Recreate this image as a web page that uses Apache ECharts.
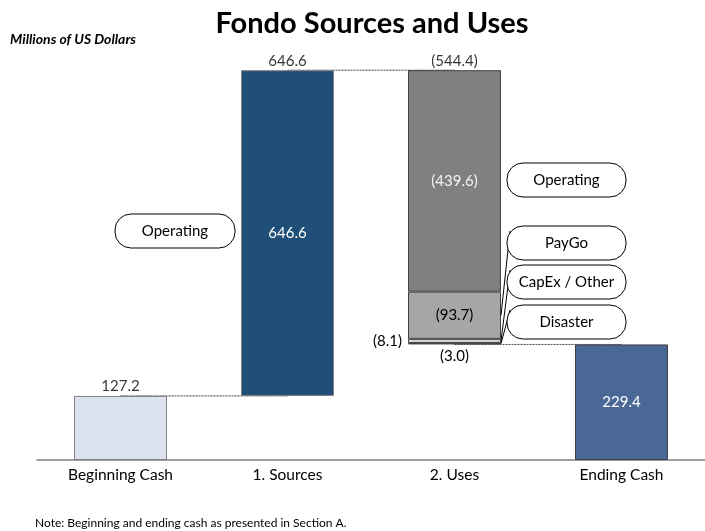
<!DOCTYPE html>
<html>
<head>
<meta charset="utf-8">
<script src="https://cdn.jsdelivr.net/npm/echarts@6/dist/echarts.min.js"></script>
<style>
  html, body { margin: 0; padding: 0; background: #fff; }
  #main { width: 705px; height: 531px; }
</style>
</head>
<body>
<div id="main"></div>
<script>
// data
var categories = ['Beginning Cash', '1. Sources', '2. Uses', 'Ending Cash'];
var beginningCash = 127.2;
var sourceNames = ['Operating'];
var sourceValues = [646.6];
// stacked bottom -> top
var useNames = ['Disaster', 'CapEx / Other', 'PayGo', 'Operating'];
var useValues = [3.0, 8.1, 93.7, 439.6];
var useColors = ['#404040', '#d9d9d9', '#a6a6a6', '#808080'];
var endingCash = 229.4;

var font = 'Lato';
var sourcesTotal = sourceValues.reduce(function (a, b) { return a + b; }, 0);
var usesTotal = useValues.reduce(function (a, b) { return a + b; }, 0);
var peak = beginningCash + sourcesTotal;
var usesBase = peak - usesTotal;

function paren(v) { return '(' + v.toFixed(1) + ')'; }

var chart = echarts.init(document.getElementById('main'));

var series = [];
// invisible base for the floating bars
series.push({
  name: 'base', type: 'bar', stack: 'w', silent: true, barWidth: 93, z: 3,
  itemStyle: { color: 'rgba(0,0,0,0)' },
  data: [0, beginningCash, usesBase, 0]
});
series.push({
  name: 'Beginning Cash', type: 'bar', stack: 'w', barWidth: 93, z: 3,
  itemStyle: { color: '#dce3ee', borderColor: '#7f7f7f', borderWidth: 1 },
  data: [beginningCash, '-', '-', '-']
});
series.push({
  name: sourceNames[0], type: 'bar', stack: 'w', barWidth: 93, z: 3,
  itemStyle: { color: '#1f4e79', borderColor: '#7f7f7f', borderWidth: 1 },
  label: { show: true, position: 'inside', color: '#fff', fontFamily: font, fontSize: 15,
    formatter: function (p) { return p.value.toFixed(1); } },
  data: ['-', sourceValues[0], '-', '-']
});
useNames.forEach(function (n, i) {
  var lbl;
  if (i === 0) {
    lbl = { show: true, position: 'bottom', distance: 4, color: '#000' };
  } else if (i === 1) {
    lbl = { show: true, position: 'left', distance: 6, color: '#000' };
  } else {
    lbl = { show: true, position: 'inside', color: i === 3 ? '#f2f2f2' : '#000' };
  }
  lbl.fontFamily = font;
  lbl.fontSize = 15;
  lbl.formatter = function (p) { return paren(p.value); };
  series.push({
    name: n, type: 'bar', stack: 'w', barWidth: 93, z: 3,
    itemStyle: { color: useColors[i], borderColor: '#404040', borderWidth: 1 },
    label: lbl,
    data: ['-', '-', useValues[i], '-']
  });
});
series.push({
  name: 'Ending Cash', type: 'bar', stack: 'w', barWidth: 93, z: 3,
  itemStyle: { color: '#4a6896', borderColor: '#404040', borderWidth: 1 },
  label: { show: true, position: 'inside', color: '#fff', fontFamily: font, fontSize: 15,
    formatter: function (p) { return p.value.toFixed(1); } },
  data: ['-', '-', '-', endingCash]
});
// totals above bars
series.push({
  name: 'totals', type: 'scatter', symbolSize: 0, silent: true, z: 5,
  label: { show: true, position: 'top', distance: 2, color: '#000', fontFamily: font, fontSize: 15,
    formatter: function (p) { return p.value[2]; } },
  data: [
    [0, beginningCash, beginningCash.toFixed(1)],
    [1, peak, sourcesTotal.toFixed(1)],
    [2, peak, paren(usesTotal)]
  ]
});
// dotted connectors
var connectors = [
  [0, 1, beginningCash],
  [1, 2, peak],
  [2, 3, endingCash]
];
connectors.forEach(function (c) {
  series.push({
    type: 'line', silent: true, z: 1, symbol: 'none',
    lineStyle: { color: '#404040', width: 1, type: [2, 1] },
    data: [[c[0], c[2]], [c[1], c[2]]]
  });
});

chart.setOption({
  animation: false,
  title: [
    { text: 'Fondo Sources and Uses', left: 367, top: 4, textAlign: 'center',
      textStyle: { fontFamily: font, fontSize: 29, fontWeight: 'bold', color: '#000' } },
    { text: 'Millions of US Dollars', left: 5, top: 27,
      textStyle: { fontFamily: font, fontSize: 14, fontWeight: 'bold', fontStyle: 'italic', color: '#000' } },
    { text: 'Note: Beginning and ending cash as presented in Section A.', left: 30, top: 512,
      textStyle: { fontFamily: font, fontSize: 12, fontWeight: 'normal', color: '#000' } }
  ],
  grid: { left: 37, right: 0, top: 57, bottom: 71, containLabel: false },
  xAxis: {
    type: 'category', data: categories,
    axisLine: { lineStyle: { color: '#808080', width: 1.5 } },
    axisTick: { show: false },
    axisLabel: { color: '#000', fontFamily: font, fontSize: 15.5, margin: 7 }
  },
  yAxis: { type: 'value', min: 0, max: 800, show: false, splitLine: { show: false } },
  series: series
});

// callout boxes
function box(cx, cy, w, text) {
  return [{
    type: 'rect', z: 10,
    shape: { x: cx - w / 2, y: cy - 17, width: w, height: 34, r: 16 },
    style: { fill: '#fff', stroke: '#000', lineWidth: 1 }
  }, {
    type: 'text', z: 11, x: cx, y: cy,
    style: { text: text, fontFamily: font, fontSize: 15, fill: '#000',
      textAlign: 'center', textVerticalAlign: 'middle' }
  }];
}
var usesX = chart.convertToPixel({ gridIndex: 0 }, [2, 0])[0];
var barRight = usesX + 93 / 2;
var boxLeft = 507, boxW = 119;
var calloutY = [322, 282, 243, 180];
var graphics = box(175, 231, 120, sourceNames[0]);
var cum = usesBase;
useNames.forEach(function (n, i) {
  var segMid = cum + useValues[i] / 2;
  cum += useValues[i];
  var py = chart.convertToPixel({ gridIndex: 0 }, [2, segMid])[1];
  if (i < 3) {
    graphics.push({
      type: 'line', z: 9,
      shape: { x1: boxLeft + 3, y1: calloutY[i] - 12, x2: barRight, y2: py },
      style: { stroke: '#000', lineWidth: 1 }
    });
  }
  graphics = graphics.concat(box(boxLeft + boxW / 2, calloutY[i], boxW, n));
});
chart.setOption({ graphic: graphics });
</script>
</body>
</html>
